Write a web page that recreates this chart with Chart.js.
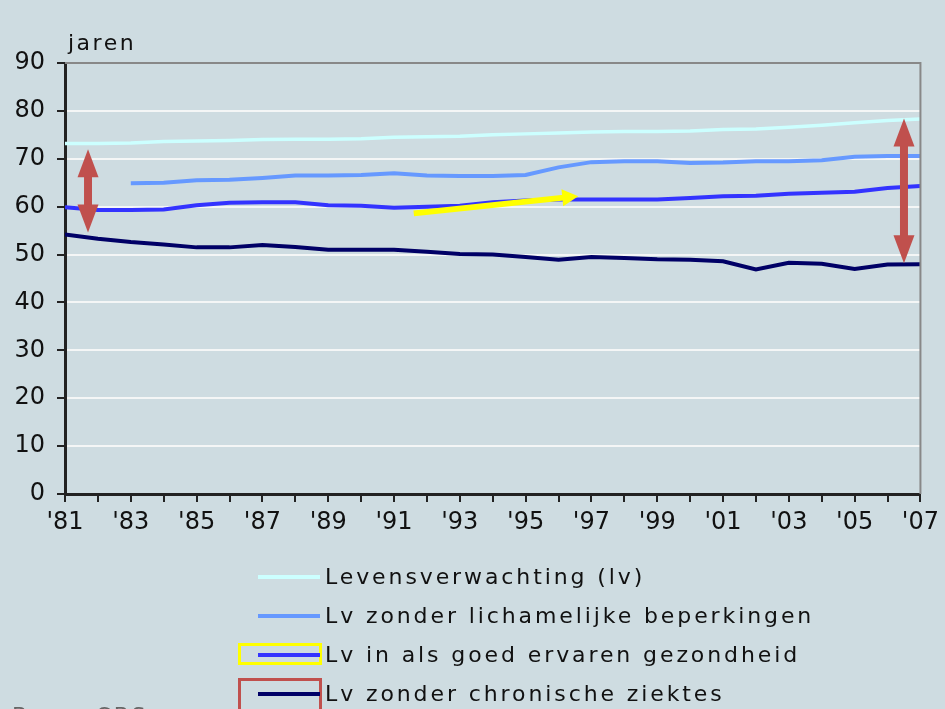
<!DOCTYPE html>
<html>
<head>
<meta charset="utf-8">
<script src="https://cdn.jsdelivr.net/npm/chart.js@4.4.1/dist/chart.umd.min.js"></script>
<style>
    html, body { margin: 0; padding: 0; background: #cedce1; overflow: hidden; }
    #wrap { position: relative; width: 945px; height: 709px; }
    #legend { position: absolute; left: 238px; top: 560px; font-family: "DejaVu Sans", Verdana, sans-serif; font-size: 22px; color: #111; }
    .item { position: relative; height: 39px; line-height: 34px; padding-left: 87px; white-space: nowrap; letter-spacing: 2.9px; }
    .item .swatch { position: absolute; left: 20px; top: 15px; width: 62px; height: 4px; }
    .item .box { position: absolute; left: 0; top: 5px; width: 78px; }
    #source { position: absolute; left: 12px; top: 703px; font-family: "DejaVu Sans", sans-serif; font-size: 22px; color: #666; letter-spacing: 3px; }
</style>
</head>
<body>
<div id="wrap">
    <canvas id="chart" width="945" height="709"></canvas>
    <div id="legend"></div>
    <div id="source">Bron: CBS</div>
</div>
<script>
// --- DATA ---
const years = [1981, 1982, 1983, 1984, 1985, 1986, 1987, 1988, 1989, 1990, 1991, 1992, 1993, 1994,
               1995, 1996, 1997, 1998, 1999, 2000, 2001, 2002, 2003, 2004, 2005, 2006, 2007];

const seriesLabels = [
    'Levensverwachting (lv)',
    'Lv zonder lichamelijke beperkingen',
    'Lv in als goed ervaren gezondheid',
    'Lv zonder chronische ziektes'
];

const lvTotal = [73.2, 73.2, 73.3, 73.6, 73.7, 73.8, 74.0, 74.1, 74.1, 74.2, 74.5, 74.6, 74.7, 75.0,
                 75.2, 75.4, 75.6, 75.7, 75.7, 75.8, 76.1, 76.2, 76.6, 77.0, 77.5, 78.0, 78.3];

const lvNoDisability = [null, null, 64.9, 65.0, 65.5, 65.6, 66.0, 66.5, 66.5, 66.6, 67.0, 66.5, 66.4, 66.4,
                        66.6, 68.2, 69.3, 69.5, 69.5, 69.1, 69.2, 69.5, 69.5, 69.7, 70.4, 70.6, 70.6];

const lvGoodHealth = [59.9, 59.3, 59.3, 59.4, 60.3, 60.8, 60.9, 60.9, 60.3, 60.2, 59.8, 60.0, 60.2, 60.9,
                      61.3, 61.5, 61.5, 61.5, 61.5, 61.8, 62.2, 62.3, 62.7, 62.9, 63.1, 63.9, 64.3];

const lvNoChronic = [54.2, 53.3, 52.6, 52.1, 51.5, 51.5, 52.0, 51.6, 51.0, 51.0, 51.0, 50.6, 50.1, 50.0,
                     49.5, 48.9, 49.5, 49.3, 49.0, 48.9, 48.6, 46.9, 48.3, 48.1, 47.0, 47.9, 48.0];

const yTicks = [0, 10, 20, 30, 40, 50, 60, 70, 80, 90];

// annotation arrows in data units: [yearFrom, valueFrom, yearTo, valueTo]
const redArrows = [[1981.7, 72.0, 1981.7, 54.6], [2006.5, 78.4, 2006.5, 48.2]];
const yellowArrow = [1991.6, 58.6, 1996.6, 62.2];

const colors = ['#ccffff', '#6699ff', '#3333ff', '#000066'];
const widths = [3.5, 4, 4, 4];
const allSeries = [lvTotal, lvNoDisability, lvGoodHealth, lvNoChronic];

// --- PLUGINS ---
const frameAndArrows = {
    id: 'frameAndArrows',
    afterDatasetsDraw(chart) {
        const { ctx, chartArea: a, scales: { x, y } } = chart;
        ctx.save();
        // grey frame on top and right
        ctx.strokeStyle = '#888';
        ctx.lineWidth = 2;
        ctx.beginPath();
        ctx.moveTo(a.left, a.top);
        ctx.lineTo(a.right, a.top);
        ctx.lineTo(a.right, a.bottom);
        ctx.stroke();

        const arrowHead = (x0, y0, x1, y1, len, half, color) => {
            const ang = Math.atan2(y1 - y0, x1 - x0);
            ctx.fillStyle = color;
            ctx.beginPath();
            ctx.moveTo(x1, y1);
            ctx.lineTo(x1 - len * Math.cos(ang) + half * Math.sin(ang), y1 - len * Math.sin(ang) - half * Math.cos(ang));
            ctx.lineTo(x1 - len * Math.cos(ang) - half * Math.sin(ang), y1 - len * Math.sin(ang) + half * Math.cos(ang));
            ctx.closePath();
            ctx.fill();
        };

        // red double arrows
        redArrows.forEach(([xa, ya, xb, yb]) => {
            const px0 = x.getPixelForValue(xa), py0 = y.getPixelForValue(ya);
            const px1 = x.getPixelForValue(xb), py1 = y.getPixelForValue(yb);
            ctx.strokeStyle = '#c0504d';
            ctx.lineWidth = 8;
            ctx.beginPath();
            ctx.moveTo(px0, py0 + 20);
            ctx.lineTo(px1, py1 - 20);
            ctx.stroke();
            arrowHead(px1, py1 - 30, px0, py0, 28, 10.5, '#c0504d');
            arrowHead(px0, py0 + 30, px1, py1, 28, 10.5, '#c0504d');
        });

        // yellow arrow
        const [ya0, yv0, ya1, yv1] = yellowArrow;
        const sx = x.getPixelForValue(ya0), sy = y.getPixelForValue(yv0);
        const ex = x.getPixelForValue(ya1), ey = y.getPixelForValue(yv1);
        const ang = Math.atan2(ey - sy, ex - sx);
        ctx.strokeStyle = '#ffff00';
        ctx.lineWidth = 6;
        ctx.beginPath();
        ctx.moveTo(sx, sy);
        ctx.lineTo(ex - 12 * Math.cos(ang), ey - 12 * Math.sin(ang));
        ctx.stroke();
        arrowHead(sx, sy, ex, ey, 16, 8.5, '#ffff00');

        // "jaren" unit label
        ctx.fillStyle = '#111';
        ctx.font = '22px "DejaVu Sans", Verdana, sans-serif';
        ctx.letterSpacing = '2.5px';
        ctx.textBaseline = 'bottom';
        ctx.textAlign = 'left';
        ctx.fillText('jaren', a.left + 3, a.top - 8);
        ctx.restore();
    }
};

// --- CHART ---
const ctx = document.getElementById('chart').getContext('2d');
const myChart = new Chart(ctx, {
    type: 'line',
    data: {
        datasets: allSeries.map((vals, i) => ({
            label: seriesLabels[i],
            data: years.map((yr, k) => ({ x: yr, y: vals[k] })),
            borderColor: colors[i],
            backgroundColor: colors[i],
            borderWidth: widths[i],
            pointRadius: 0,
            tension: 0,
            spanGaps: false
        })).reverse()
    },
    options: {
        responsive: false,
        animation: false,
        layout: { padding: { top: 63, right: 23, left: 0, bottom: 0 } },
        plugins: { legend: { display: false }, tooltip: { enabled: false } },
        scales: {
            x: {
                type: 'linear',
                min: years[0],
                max: years[years.length - 1],
                afterFit: (scale) => { scale.height = 215; },
                afterBuildTicks: (scale) => { scale.ticks = years.map(v => ({ value: v })); },
                ticks: {
                    autoSkip: false,
                    maxRotation: 0,
                    padding: 6,
                    color: '#111',
                    font: { family: '"DejaVu Sans", Verdana, sans-serif', size: 24 },
                    callback: (v) => (v % 2 === 1 ? "'" + String(v).slice(2) : '')
                },
                grid: { drawOnChartArea: false, tickLength: 8, tickColor: '#222', lineWidth: 2 },
                border: { color: '#222', width: 3 }
            },
            y: {
                min: 0,
                max: 90,
                afterFit: (scale) => { scale.width = 65; },
                afterBuildTicks: (scale) => { scale.ticks = yTicks.map(v => ({ value: v })); },
                ticks: {
                    padding: 12,
                    color: '#111',
                    font: { family: '"DejaVu Sans", Verdana, sans-serif', size: 24 }
                },
                grid: {
                    color: (c) => (c.tick && c.tick.value === 90 ? '#888' : '#f4f6f6'),
                    lineWidth: 2,
                    tickLength: 8,
                    tickColor: '#222'
                },
                border: { color: '#222', width: 3 }
            }
        }
    },
    plugins: [frameAndArrows]
});

// --- LEGEND ---
const legendBoxes = [null, null, '#ffff00', '#c0504d'];
const boxHeights = [0, 0, 16, 34];
const legendEl = document.getElementById('legend');
seriesLabels.forEach((label, i) => {
    const row = document.createElement('div');
    row.className = 'item';
    let html = '';
    if (legendBoxes[i]) {
        const top = i === 3 ? 1 : 5;
        html += `<span class="box" style="top:${top}px;height:${boxHeights[i]}px;border:3px solid ${legendBoxes[i]}"></span>`;
    }
    html += `<span class="swatch" style="background:${colors[i]}"></span>${label}`;
    row.innerHTML = html;
    legendEl.appendChild(row);
});
</script>
</body>
</html>
